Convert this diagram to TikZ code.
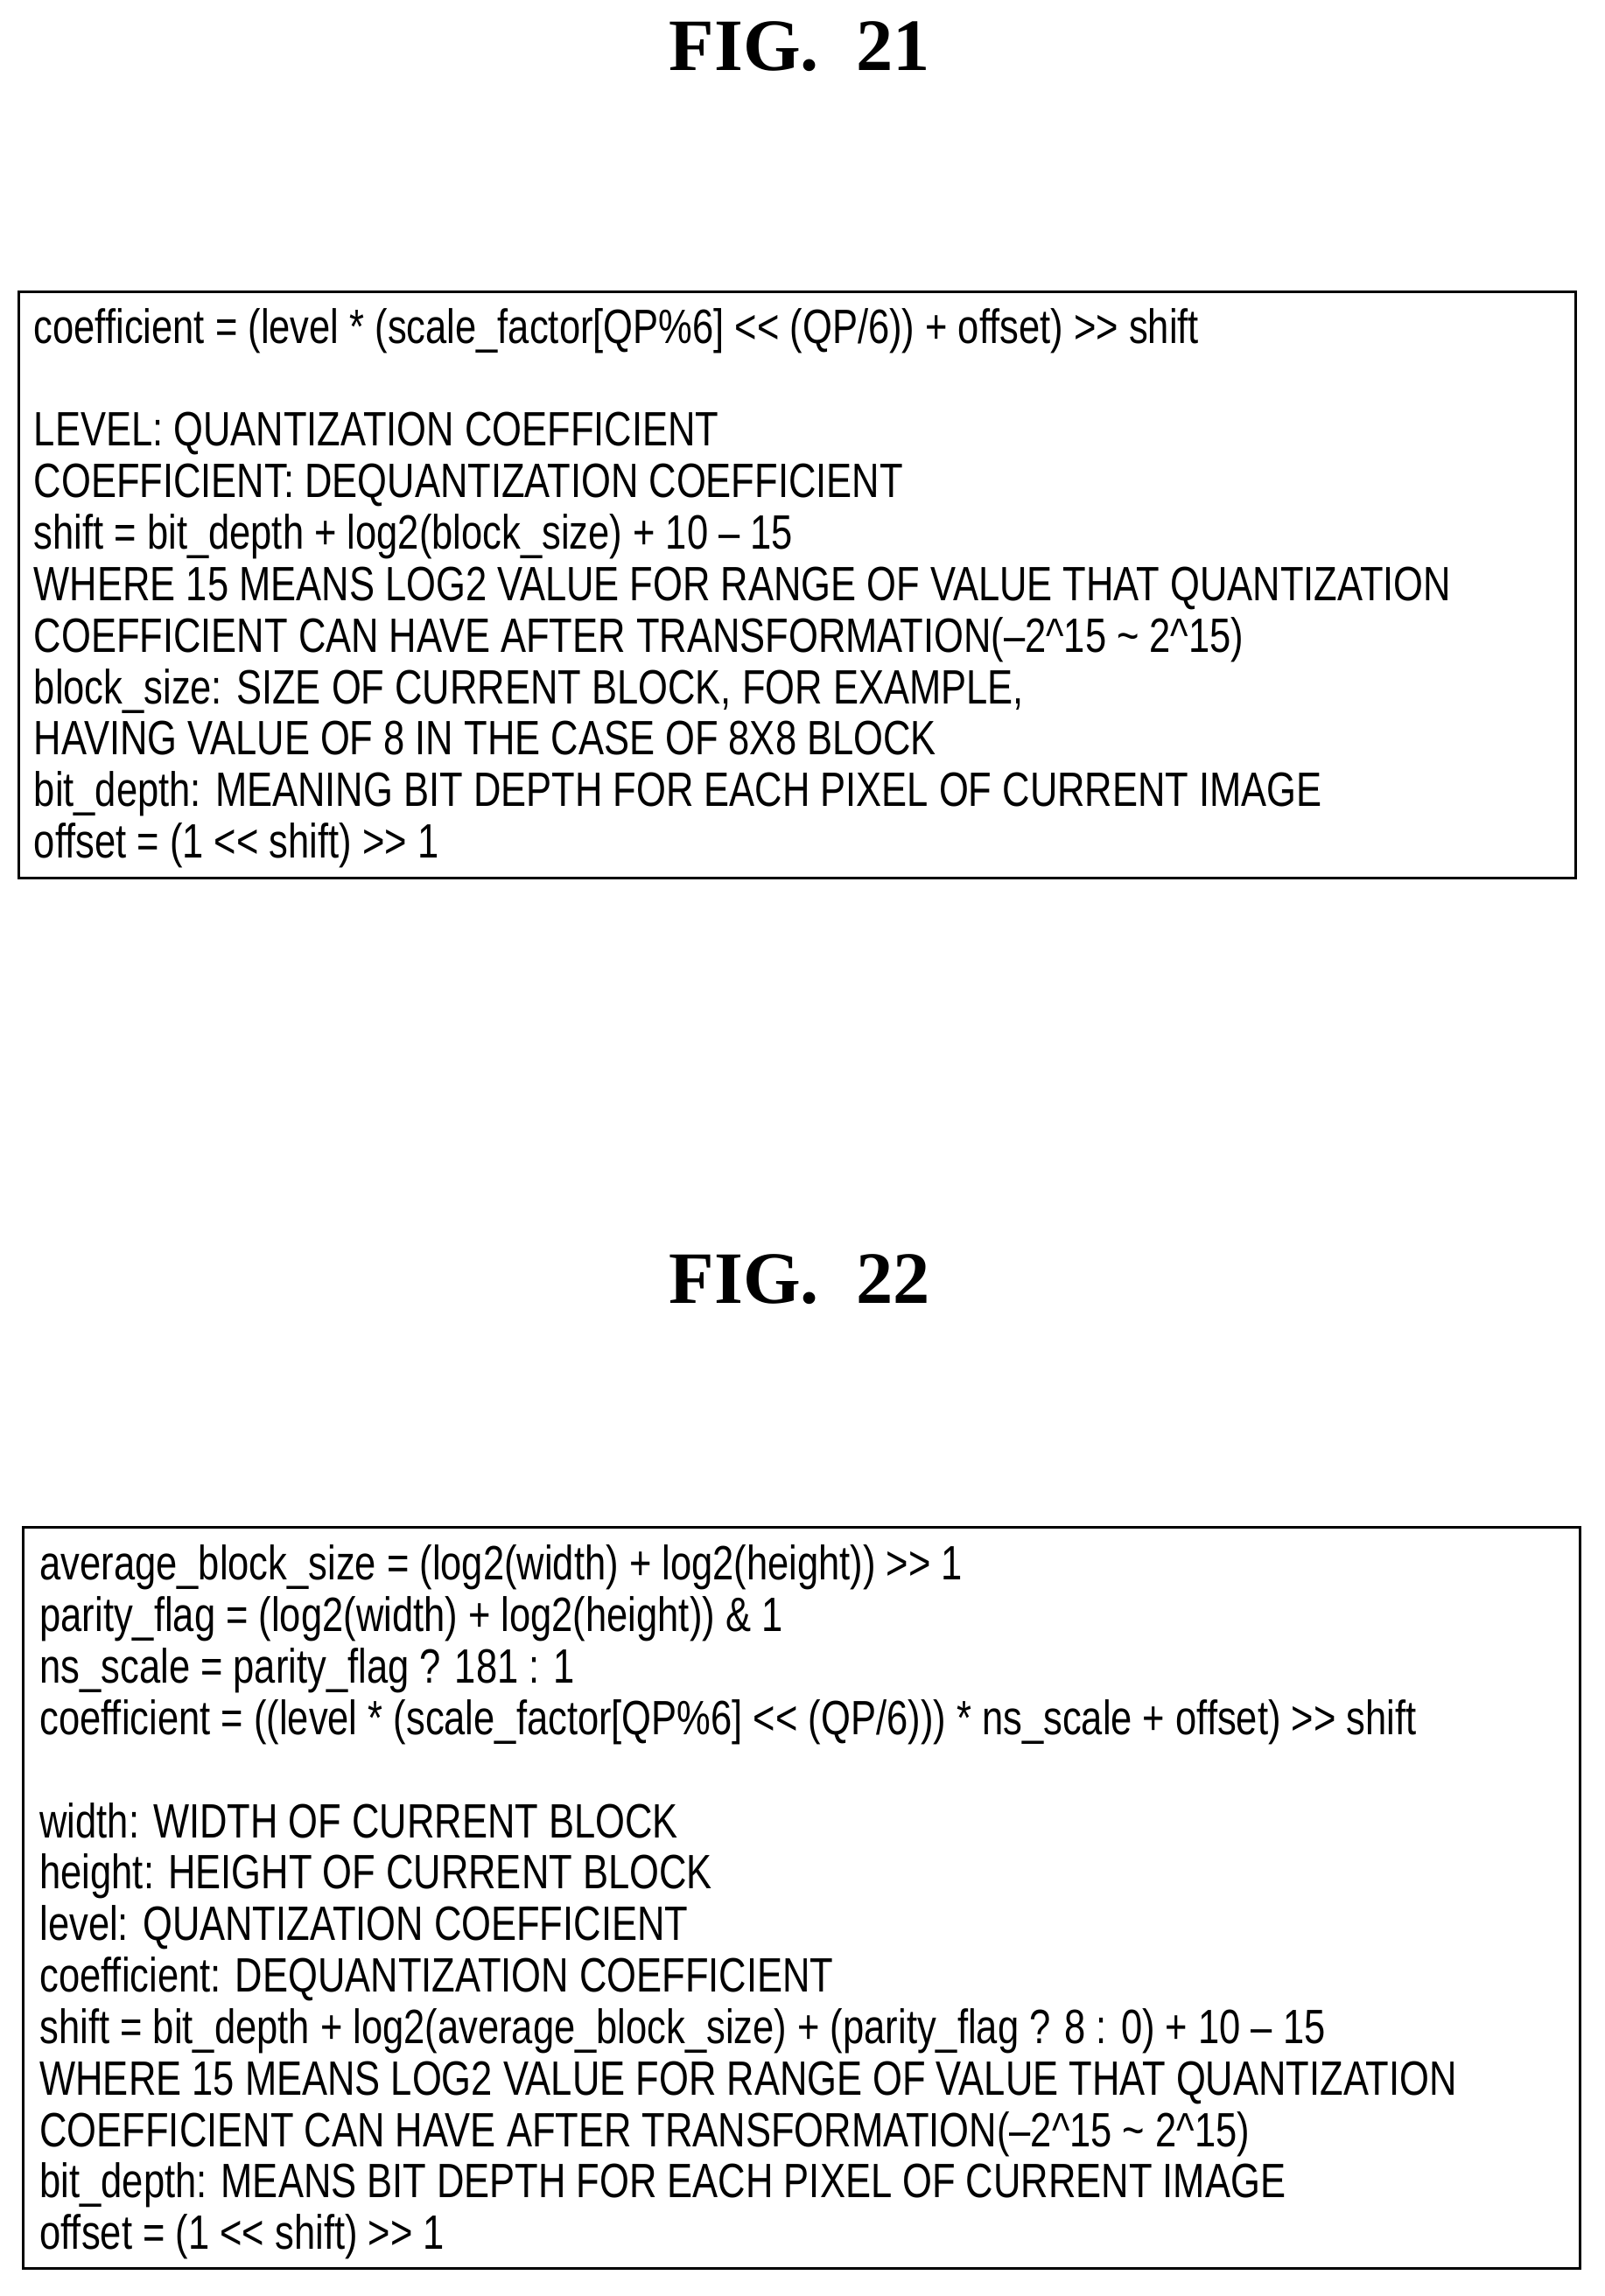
\documentclass[tikz,border=0pt]{standalone}
\usepackage{fontspec}
\setmainfont{Liberation Sans}[FakeStretch=0.79]
\newfontfamily\titlefont{Liberation Serif}
\newcommand{\sll}{<{}<}
\newcommand{\srr}{>{}>}
\begin{document}
\begin{tikzpicture}[x=0.025cm,y=-0.025cm,
  box/.style={draw,line width=1.3pt},
  body/.style={anchor=north west,align=left,inner sep=0pt,font=\fontsize{23.5}{25.1}\selectfont},
  ttl/.style={font=\titlefont\bfseries\fontsize{36}{40}\selectfont}]
\useasboundingbox (0,0) rectangle (1100,1574);
\node[ttl] (t1) at (548,32) {FIG.~~21};
\node[ttl] (t2) at (548,877) {FIG.~~22};
\draw[box] (13,200) rectangle (1080,602);
\node[body] (b1) at (23,211) {coefficient = (level * (scale\_factor[QP\%6] \sll{} (QP/6)) + offset) \srr{} shift\\[25.1pt]
LEVEL: QUANTIZATION COEFFICIENT\\
COEFFICIENT: DEQUANTIZATION COEFFICIENT\\
shift = bit\_depth + log2(block\_size) + 10 -- 15\\
WHERE 15 MEANS LOG2 VALUE FOR RANGE OF VALUE THAT QUANTIZATION\\
COEFFICIENT CAN HAVE AFTER TRANSFORMATION(--2\^{}15 \char`~\ 2\^{}15)\\
block\_size: SIZE OF CURRENT BLOCK, FOR EXAMPLE,\\
HAVING VALUE OF 8 IN THE CASE OF 8X8 BLOCK\\
bit\_depth: MEANING BIT DEPTH FOR EACH PIXEL OF CURRENT IMAGE\\
offset = (1 \sll{} shift) \srr{} 1};
\draw[box] (16,1047) rectangle (1083,1555);
\node[body] (b2) at (27,1059) {average\_block\_size = (log2(width) + log2(height)) \srr{} 1\\
parity\_flag = (log2(width) + log2(height)) \& 1\\
ns\_scale = parity\_flag ? 181 : 1\\
coefficient = ((level * (scale\_factor[QP\%6] \sll{} (QP/6))) * ns\_scale + offset) \srr{} shift\\[25.1pt]
width: WIDTH OF CURRENT BLOCK\\
height: HEIGHT OF CURRENT BLOCK\\
level: QUANTIZATION COEFFICIENT\\
coefficient: DEQUANTIZATION COEFFICIENT\\
shift = bit\_depth + log2(average\_block\_size) + (parity\_flag ? 8 : 0) + 10 -- 15\\
WHERE 15 MEANS LOG2 VALUE FOR RANGE OF VALUE THAT QUANTIZATION\\
COEFFICIENT CAN HAVE AFTER TRANSFORMATION(--2\^{}15 \char`~\ 2\^{}15)\\
bit\_depth: MEANS BIT DEPTH FOR EACH PIXEL OF CURRENT IMAGE\\
offset = (1 \sll{} shift) \srr{} 1};
\end{tikzpicture}
\end{document}
